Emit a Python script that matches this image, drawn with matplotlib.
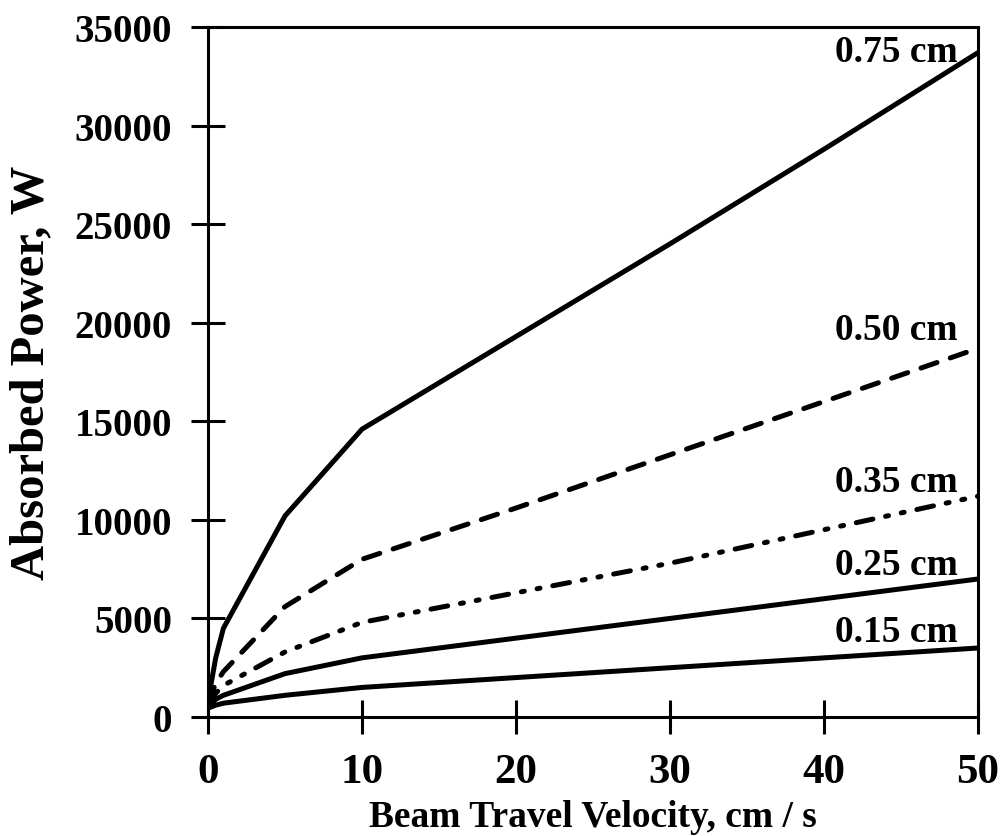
import matplotlib
matplotlib.use("Agg")
from matplotlib import pyplot as plt

# beam travel velocity, cm/s
velocity = [0, 0.5, 1, 5, 10, 20, 30, 40, 50]

# absorbed power, W, per penetration depth
p_075 = [800, 3000, 4500, 10200, 14600, 19300, 24000, 28800, 33700]
p_050 = [700, 1700, 2300, 5600, 8000, 10600, 13300, 16000, 18700]
p_035 = [600, 1200, 1600, 3300, 4800, 6300, 7800, 9500, 11200]
p_025 = [500, 900, 1100, 2200, 3000, 4000, 5000, 6000, 7000]
p_015 = [450, 600, 700, 1100, 1500, 2000, 2500, 3000, 3500]

labels = ["0.75 cm", "0.50 cm", "0.35 cm", "0.25 cm", "0.15 cm"]
label_y = [33275, 19174, 11464, 7254, 3855]

font = "Liberation Serif"
W, H = 1001, 837
fig = plt.figure(figsize=(W / 100, H / 100), dpi=100)
ax = fig.add_axes([208 / W, 1 - 718 / H, (978 - 208) / W, (718 - 28) / H])

lw = 3.6
ax.plot(velocity, p_075, color="black", lw=lw, solid_capstyle="round", solid_joinstyle="round")
ax.plot(velocity, p_050, color="black", lw=lw, dashes=(3.4, 2.8), dash_capstyle="round")
ax.plot(velocity, p_035, color="black", lw=lw, dashes=(3.4, 2.6, 0.6, 2.6, 0.6, 2.6),
        dash_capstyle="round")
ax.plot(velocity, p_025, color="black", lw=lw, solid_joinstyle="round")
ax.plot(velocity, p_015, color="black", lw=lw, solid_joinstyle="round")

for lab, y in zip(labels, label_y):
    ax.text(48.7, y, lab, ha="right", va="baseline", fontsize=27,
            fontweight="bold", family=font)

ax.set_xlim(0, 50)
ax.set_ylim(0, 35000)
ax.set_xticks(range(0, 51, 10))
ax.set_yticks(range(0, 35001, 5000))

for s in ax.spines.values():
    s.set_linewidth(2.2)
ax.tick_params(direction="inout", length=24, width=2.2, pad=14)
for t in ax.get_xticklabels():
    t.set_fontsize(31)
    t.set_fontweight("bold")
    t.set_family(font)
for t in ax.get_yticklabels():
    t.set_fontsize(28)
    t.set_fontweight("bold")
    t.set_family(font)

ax.set_xlabel("Beam Travel Velocity, cm / s", fontsize=27, fontweight="bold",
              family=font, labelpad=6)
ax.set_ylabel("Absorbed Power, W", fontsize=35, fontweight="bold",
              family=font, labelpad=15)

fig.savefig("out.png", dpi=100)
